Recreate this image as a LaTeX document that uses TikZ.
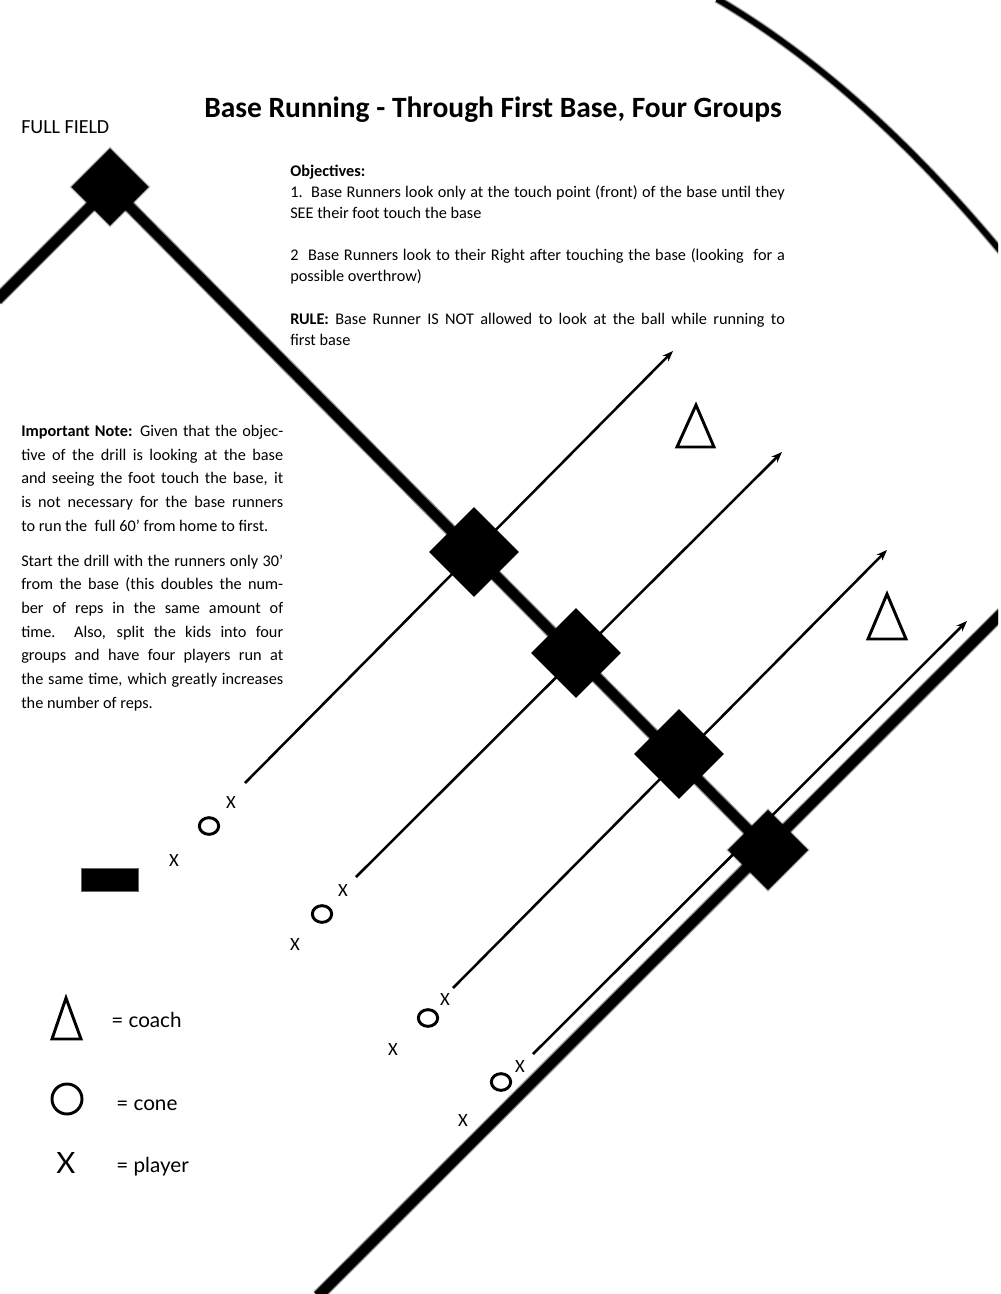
\documentclass[tikz,border=0pt]{standalone}
\usepackage{fontspec}
\setmainfont{Carlito}
\newfontfamily\legendfont{Lato}
\usetikzlibrary{arrows.meta,backgrounds,shapes.geometric}

\tikzset{
  bodytext/.style={inner sep=0pt,anchor=north west,align=justify,text width=371pt,font=\fontsize{12.2}{15.8}\selectfont},
  notetext/.style={inner sep=0pt,anchor=north west,align=justify,text width=196.5pt,font=\fontsize{12.2}{17.75}\selectfont},
  legendtext/.style={inner sep=0pt,anchor=west,font=\legendfont\fontsize{15.5}{18}\selectfont},
  fieldline/.style={line width=7.5pt,preaction={draw,draw opacity=.2,line width=10pt},preaction={draw,draw opacity=.45,line width=9pt}},
  arcline/.style={line width=4pt,preaction={draw,draw opacity=.2,line width=6.5pt},preaction={draw,draw opacity=.45,line width=5.3pt}},
  softedge/.style={draw=black,draw opacity=.5,line width=0.8pt,preaction={draw=black,draw opacity=.2,line width=2.2pt}},
  plate/.style={diamond,fill=black,inner sep=0pt,aspect=1,minimum width=67.5pt,minimum height=67.5pt},
  softplate/.style={plate,softedge,minimum width=#1,minimum height=#1},
  run/.style={-{Stealth[length=8pt,width=6pt]},line width=1.9pt},
  coach/.style={draw,line width=2.2pt},
  cone/.style={ellipse,draw,line width=2.2pt,inner sep=0pt,minimum width=14.5pt,minimum height=12.5pt},
  player/.style={inner sep=0pt,font=\fontsize{14}{16}\selectfont}
}

\begin{document}
\begin{tikzpicture}[x=0.75pt,y=-0.75pt,>=Stealth]
  \useasboundingbox (0,0) rectangle (1000,1294);
  % bases
  \node[softplate=58pt] (secondbase) at (110,187) {};
  \node[plate] (baseA) at (474,552) {};
  \node[plate] (baseB) at (576,653) {};
  \node[plate] (baseC) at (679,754) {};
  \node[softplate=60pt] (firstbase) at (768,850) {};
  \node[fill=black,softedge,inner sep=0pt,minimum width=42pt,minimum height=16.5pt] (home) at (110,880) {};

  % field
  \coordinate (leftend) at (-3,300);
  \coordinate (fouldown) at (318,1296);
  \coordinate (foulup) at (1003,612);
  \coordinate (arcstart) at (717,-1);
  \coordinate (arcend) at (1003,254);

  % running lanes
  \coordinate (startA) at (245,783);
  \coordinate (endA) at (673,351);
  \coordinate (startB) at (356,877);
  \coordinate (endB) at (782,452);
  \coordinate (startC) at (453,988);
  \coordinate (endC) at (887,550);
  \coordinate (startD) at (533,1054);
  \coordinate (endD) at (967,621);

  \begin{scope}[on background layer]
    \clip (-5,-5) rectangle (998,1300);
    \draw[fieldline] (secondbase.center) -- (leftend);
    \draw[fieldline] (secondbase.center) -- (firstbase.center);
    \draw[fieldline] (fouldown) -- (foulup);
    \draw[arcline] (arcstart) .. controls (811,54) and (906,137) .. (arcend);
    \draw[run] (startA) -- (endA);
    \draw[run] (startB) -- (endB);
    \draw[run] (startC) -- (endC);
    \draw[run] (startD) -- (endD);
  \end{scope}

  % coaches
  \draw[coach] (696,405) -- (714,447) -- (677,447) -- cycle;
  \draw[coach] (887,594) -- (906,639) -- (868,639) -- cycle;

  % cones and players
  \node[cone] (coneA) at (209,826) {};
  \node[cone] (coneB) at (322,914) {};
  \node[cone] (coneC) at (428,1018) {};
  \node[cone] (coneD) at (501,1082) {};
  \node[player] (frontA) at (231,803) {X};
  \node[player] (backA) at (174,861) {X};
  \node[player] (frontB) at (343,891) {X};
  \node[player] (backB) at (295,945) {X};
  \node[player] (frontC) at (445,999) {X};
  \node[player] (backC) at (393,1049) {X};
  \node[player] (frontD) at (520,1066) {X};
  \node[player] (backD) at (463,1120) {X};

  % legend
  \draw[coach] (66,998) -- (81,1039) -- (52,1039) -- cycle;
  \node[circle,draw,line width=2.2pt,inner sep=0pt,minimum size=22.5pt] (legendcone) at (67,1099) {};
  \node[inner sep=0pt,font=\legendfont\fontsize{22}{24}\selectfont] (legendplayer) at (66,1163) {X};
  \node[legendtext] (coachlabel) at (111,1020) {= coach};
  \node[legendtext] (conelabel) at (116,1105) {= cone};
  \node[legendtext] (playerlabel) at (116,1167) {= player};

  % texts
  \node[inner sep=0pt,anchor=base west,font=\bfseries\fontsize{22.1}{24}\selectfont] (title) at (204,118) {Base Running - Through First Base, Four Groups};
  \node[inner sep=0pt,anchor=base west,font=\fontsize{15}{18}\selectfont] (fullfield) at (21,133.5) {FULL FIELD};
  \node[bodytext] (objectives) at (290,165) {\textbf{Objectives:}\\
    1.~~Base Runners look only at the touch point (front) of the base until they\linebreak SEE their foot touch the base};
  \node[bodytext] (lookright) at (290,248) {2~~Base Runners look to their Right after touching the base (looking~~for a\linebreak possible overthrow)};
  \node[bodytext] (rule) at (290,313) {\textbf{RULE:} Base Runner IS NOT allowed to look at the ball while running to\linebreak first base};
  \node[notetext] (note) at (21,425) {\textbf{Important Note:} Given that the objec-\linebreak tive of the drill is looking at the base\linebreak and seeing the foot touch the base, it\linebreak is not necessary for the base runners\linebreak to run the~~full 60’ from home to first.};
  \node[notetext] (start) at (21,554.5) {Start the drill with the runners only 30’\linebreak from the base (this doubles the num-\linebreak ber of reps in the same amount of\linebreak time.~~Also, split the kids into four\linebreak groups and have four players run at\linebreak the same time, which greatly increases\linebreak the number of reps.};
\end{tikzpicture}
\end{document}
